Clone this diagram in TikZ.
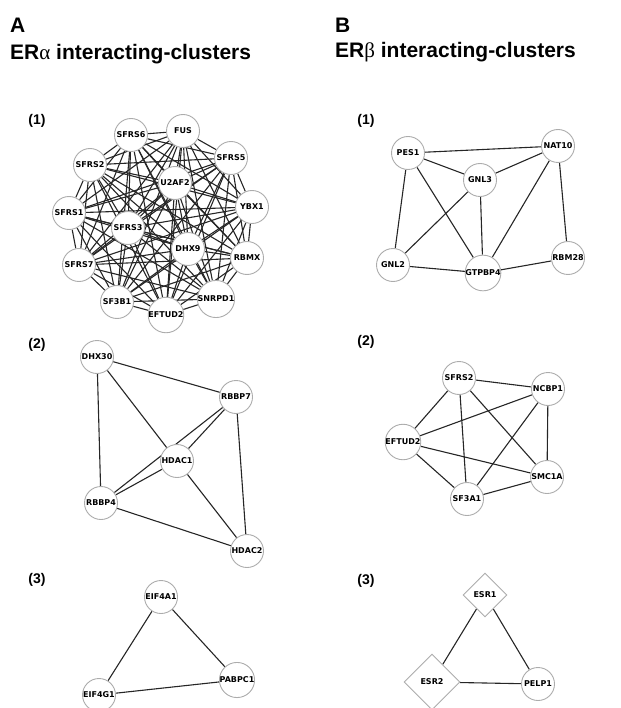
\documentclass[tikz,border=0pt]{standalone}
\usepackage{fontspec}
\setmainfont{Liberation Sans}
\newfontfamily\genefont{DejaVu Sans}
\newfontfamily\greekfont{Liberation Serif}
\usetikzlibrary{shapes.geometric,backgrounds}

\tikzset{
  gene/.style={circle,draw=gray!65,line width=0.9pt,fill=white,minimum size=33pt,inner sep=0pt,
    font=\genefont\bfseries\fontsize{8}{9}\selectfont},
  receptor/.style={diamond,aspect=1,draw=gray!65,line width=0.9pt,fill=white,inner sep=0pt,
    font=\genefont\bfseries\fontsize{8}{9}\selectfont},
  link/.style={draw=black!85,line width=1.1pt},
  panel/.style={anchor=base west,inner sep=0pt,font=\bfseries\fontsize{21}{25}\selectfont},
  tag/.style={inner sep=0pt,font=\bfseries\fontsize{14}{16}\selectfont}
}

\begin{document}
\begin{tikzpicture}[x=1pt,y=-1pt]
  \useasboundingbox(0,0)rectangle(620,708);
  \node[panel] (la) at (10,33) {A};
  \node[panel] (ta) at (10,60) {ER{\greekfont\mdseries α} interacting-clusters};
  \node[panel] (lb) at (335,33) {B};
  \node[panel] (tb) at (335,58) {ER{\greekfont\mdseries β} interacting-clusters};
  \node[tag] (a1t) at (37,121) {(1)};\node[tag] (a2t) at (37,345) {(2)};\node[tag] (a3t) at (37,580) {(3)};
  \node[tag] (b1t) at (366,121) {(1)};\node[tag] (b2t) at (366,342) {(2)};\node[tag] (b3t) at (366,581) {(3)};

  \node[gene] (a1) at (183,131) {FUS};
  \node[gene] (a2) at (131,135) {SFRS6};
  \node[gene] (a3) at (231,158) {SFRS5};
  \node[gene] (a4) at (90,165) {SFRS2};
  \node[gene] (a5) at (175,183) {U2AF2};
  \node[gene] (a6) at (252,207) {YBX1};
  \node[gene] (a7) at (69,213) {SFRS1};
  \node[gene] (a8) at (128,228) {SFRS3};
  \node[gene] (a9) at (188,249) {DHX9};
  \node[gene] (a10) at (247,258) {RBMX};
  \node[gene] (a11) at (79,265) {SFRS7};
  \node[gene] (a12) at (117,302) {SF3B1};
  \node[gene] (a13) at (216,299) {SNRPD1};
  \node[gene] (a14) at (166,315) {EFTUD2};

  \node[gene] (dhx30) at (97,357) {DHX30};
  \node[gene] (rbbp7) at (236,397) {RBBP7};
  \node[gene] (hdac1) at (177,461) {HDAC1};
  \node[gene] (rbbp4) at (101,503) {RBBP4};
  \node[gene] (hdac2) at (247,551) {HDAC2};

  \node[gene] (eif4a1) at (161,597) {EIF4A1};
  \node[gene] (pabpc1) at (237,680) {PABPC1};
  \node[gene] (eif4g1) at (99,695) {EIF4G1};

  \node[gene] (pes1) at (408,153) {PES1};
  \node[gene] (nat10) at (558,146) {NAT10};
  \node[gene] (gnl3) at (480,180) {GNL3};
  \node[gene] (gnl2) at (393,265) {GNL2};
  \node[gene] (gtpbp4) at (483,273) {GTPBP4};
  \node[gene] (rbm28) at (568,258) {RBM28};

  \node[gene] (sfrs2) at (459,378) {SFRS2};
  \node[gene] (ncbp1) at (548,389) {NCBP1};
  \node[gene] (eftud2) at (403,442) {EFTUD2};
  \node[gene] (smc1a) at (547,477) {SMC1A};
  \node[gene] (sf3a1) at (467,499) {SF3A1};

  \node[receptor,minimum size=44pt] (esr1) at (485,595) {ESR1};
  \node[receptor,minimum size=56pt] (esr2) at (432,682) {ESR2};
  \node[gene] (pelp1) at (538,684) {PELP1};

  \begin{scope}[on background layer]
    \foreach \i [evaluate=\i as \k using int(\i+1)] in {1,...,13}
      \foreach \j in {\k,...,14} \draw[link] (a\i) -- (a\j);
    \foreach \u/\v in {dhx30/rbbp7,dhx30/hdac1,dhx30/rbbp4,rbbp7/hdac1,rbbp7/rbbp4,rbbp7/hdac2,
      hdac1/rbbp4,hdac1/hdac2,rbbp4/hdac2,eif4a1/pabpc1,eif4a1/eif4g1,eif4g1/pabpc1}
      \draw[link] (\u) -- (\v);
    \foreach \u/\v in {pes1/nat10,pes1/gnl3,pes1/gnl2,pes1/gtpbp4,gnl3/nat10,gnl3/gnl2,gnl3/gtpbp4,
      nat10/gtpbp4,nat10/rbm28,gnl2/gtpbp4,gtpbp4/rbm28}
      \draw[link] (\u) -- (\v);
    \foreach \u/\v in {sfrs2/ncbp1,sfrs2/eftud2,sfrs2/sf3a1,sfrs2/smc1a,ncbp1/eftud2,ncbp1/sf3a1,
      ncbp1/smc1a,eftud2/smc1a,eftud2/sf3a1,sf3a1/smc1a,esr1/esr2,esr1/pelp1,esr2/pelp1}
      \draw[link] (\u) -- (\v);
  \end{scope}
\end{tikzpicture}
\end{document}
